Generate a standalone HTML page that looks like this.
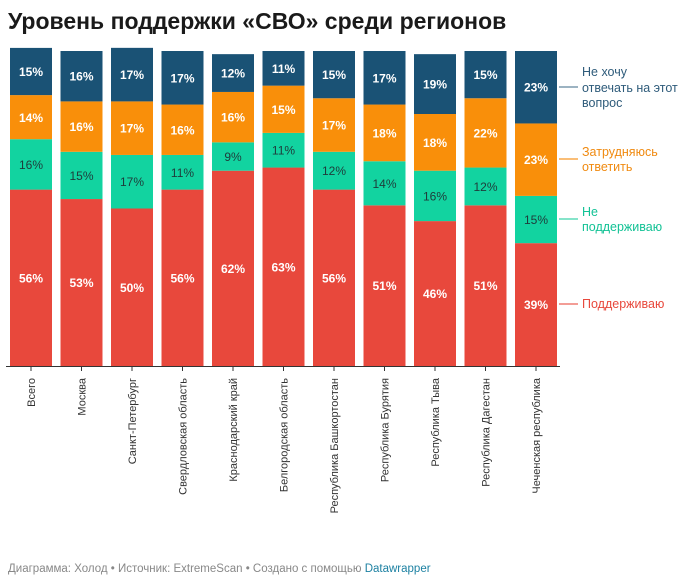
<!DOCTYPE html>
<html><head><meta charset="utf-8"><style>
body{margin:0;background:#fff;width:690px;height:580px;overflow:hidden;font-family:"Liberation Sans",sans-serif}
</style></head><body>
<svg width="690" height="580" xmlns="http://www.w3.org/2000/svg" font-family="Liberation Sans, sans-serif">
<text x="8" y="29" font-size="23" font-weight="bold" fill="#1a1a1a">Уровень поддержки «СВО» среди регионов</text>
<g>
<rect x="10" y="189.6" width="42" height="176.4" fill="#e8483c"/><rect x="10" y="139.2" width="42" height="50.4" fill="#12d3a0"/><rect x="10" y="95.1" width="42" height="44.1" fill="#f98f0a"/><rect x="10" y="47.9" width="42" height="47.2" fill="#1a5275"/>
<rect x="60.5" y="199.05" width="42" height="166.95" fill="#e8483c"/><rect x="60.5" y="151.8" width="42" height="47.25" fill="#12d3a0"/><rect x="60.5" y="101.4" width="42" height="50.4" fill="#f98f0a"/><rect x="60.5" y="51" width="42" height="50.4" fill="#1a5275"/>
<rect x="111" y="208.5" width="42" height="157.5" fill="#e8483c"/><rect x="111" y="154.95" width="42" height="53.55" fill="#12d3a0"/><rect x="111" y="101.4" width="42" height="53.55" fill="#f98f0a"/><rect x="111" y="47.85" width="42" height="53.55" fill="#1a5275"/>
<rect x="161.5" y="189.6" width="42" height="176.4" fill="#e8483c"/><rect x="161.5" y="154.95" width="42" height="34.65" fill="#12d3a0"/><rect x="161.5" y="104.55" width="42" height="50.4" fill="#f98f0a"/><rect x="161.5" y="51" width="42" height="53.55" fill="#1a5275"/>
<rect x="212" y="170.7" width="42" height="195.3" fill="#e8483c"/><rect x="212" y="142.35" width="42" height="28.35" fill="#12d3a0"/><rect x="212" y="91.95" width="42" height="50.4" fill="#f98f0a"/><rect x="212" y="54.15" width="42" height="37.8" fill="#1a5275"/>
<rect x="262.5" y="167.55" width="42" height="198.45" fill="#e8483c"/><rect x="262.5" y="132.9" width="42" height="34.65" fill="#12d3a0"/><rect x="262.5" y="85.65" width="42" height="47.25" fill="#f98f0a"/><rect x="262.5" y="51" width="42" height="34.65" fill="#1a5275"/>
<rect x="313" y="189.6" width="42" height="176.4" fill="#e8483c"/><rect x="313" y="151.8" width="42" height="37.8" fill="#12d3a0"/><rect x="313" y="98.25" width="42" height="53.55" fill="#f98f0a"/><rect x="313" y="51" width="42" height="47.25" fill="#1a5275"/>
<rect x="363.5" y="205.35" width="42" height="160.65" fill="#e8483c"/><rect x="363.5" y="161.25" width="42" height="44.1" fill="#12d3a0"/><rect x="363.5" y="104.55" width="42" height="56.7" fill="#f98f0a"/><rect x="363.5" y="51" width="42" height="53.55" fill="#1a5275"/>
<rect x="414" y="221.1" width="42" height="144.9" fill="#e8483c"/><rect x="414" y="170.7" width="42" height="50.4" fill="#12d3a0"/><rect x="414" y="114" width="42" height="56.7" fill="#f98f0a"/><rect x="414" y="54.15" width="42" height="59.85" fill="#1a5275"/>
<rect x="464.5" y="205.35" width="42" height="160.65" fill="#e8483c"/><rect x="464.5" y="167.55" width="42" height="37.8" fill="#12d3a0"/><rect x="464.5" y="98.25" width="42" height="69.3" fill="#f98f0a"/><rect x="464.5" y="51" width="42" height="47.25" fill="#1a5275"/>
<rect x="515" y="243.15" width="42" height="122.85" fill="#e8483c"/><rect x="515" y="195.9" width="42" height="47.25" fill="#12d3a0"/><rect x="515" y="123.45" width="42" height="72.45" fill="#f98f0a"/><rect x="515" y="51" width="42" height="72.45" fill="#1a5275"/>
</g>
<g font-size="12" font-weight="bold" text-anchor="middle" fill="#fff">
<text x="31" y="282.3">56%</text><text x="31" y="122">14%</text><text x="31" y="76">15%</text>
<text x="81.5" y="287">53%</text><text x="81.5" y="131">16%</text><text x="81.5" y="80.7">16%</text>
<text x="132" y="291.8">50%</text><text x="132" y="132.7">17%</text><text x="132" y="79">17%</text>
<text x="182.5" y="282.3">56%</text><text x="182.5" y="134.3">16%</text><text x="182.5" y="82.3">17%</text>
<text x="233" y="272.9">62%</text><text x="233" y="121.7">16%</text><text x="233" y="77.5">12%</text>
<text x="283.5" y="271.3">63%</text><text x="283.5" y="113.8">15%</text><text x="283.5" y="72.8">11%</text>
<text x="334" y="282.3">56%</text><text x="334" y="129.5">17%</text><text x="334" y="79">15%</text>
<text x="384.5" y="290.2">51%</text><text x="384.5" y="137.4">18%</text><text x="384.5" y="82.3">17%</text>
<text x="435" y="298.1">46%</text><text x="435" y="146.8">18%</text><text x="435" y="88.6">19%</text>
<text x="485.5" y="290.2">51%</text><text x="485.5" y="137.4">22%</text><text x="485.5" y="79">15%</text>
<text x="536" y="309.1">39%</text><text x="536" y="164.2">23%</text><text x="536" y="91.7">23%</text>
</g>
<g font-size="12" text-anchor="middle" fill="#1f3b3a">
<text x="31" y="168.9">16%</text><text x="81.5" y="179.9">15%</text><text x="132" y="186.2">17%</text><text x="182.5" y="176.8">11%</text><text x="233" y="161">9%</text><text x="283.5" y="154.7">11%</text><text x="334" y="175.2">12%</text><text x="384.5" y="187.8">14%</text><text x="435" y="200.4">16%</text><text x="485.5" y="191">12%</text><text x="536" y="224">15%</text>
</g>
<line x1="6" y1="366.5" x2="560" y2="366.5" stroke="#333" stroke-width="1"/>
<g stroke="#333"><line x1="31" y1="367" x2="31" y2="371"/><line x1="81.5" y1="367" x2="81.5" y2="371"/><line x1="132" y1="367" x2="132" y2="371"/><line x1="182.5" y1="367" x2="182.5" y2="371"/><line x1="233" y1="367" x2="233" y2="371"/><line x1="283.5" y1="367" x2="283.5" y2="371"/><line x1="334" y1="367" x2="334" y2="371"/><line x1="384.5" y1="367" x2="384.5" y2="371"/><line x1="435" y1="367" x2="435" y2="371"/><line x1="485.5" y1="367" x2="485.5" y2="371"/><line x1="536" y1="367" x2="536" y2="371"/></g>
<g font-size="11" fill="#333" text-anchor="end">
<text transform="translate(35,378) rotate(-90)">Всего</text>
<text transform="translate(85.5,378) rotate(-90)">Москва</text>
<text transform="translate(136,378) rotate(-90)">Санкт-Петербург</text>
<text transform="translate(186.5,378) rotate(-90)">Свердловская область</text>
<text transform="translate(237,378) rotate(-90)">Краснодарский край</text>
<text transform="translate(287.5,378) rotate(-90)">Белгородская область</text>
<text transform="translate(338,378) rotate(-90)">Республика Башкортостан</text>
<text transform="translate(388.5,378) rotate(-90)">Республика Бурятия</text>
<text transform="translate(439,378) rotate(-90)">Республика Тыва</text>
<text transform="translate(489.5,378) rotate(-90)">Республика Дагестан</text>
<text transform="translate(540,378) rotate(-90)">Чеченская республика</text>
</g>
<g font-size="12.5">
<line x1="559" y1="87" x2="578" y2="87" stroke="#7b9aae" stroke-width="1.5"/>
<text x="582" y="76" fill="#2e5b7a">Не хочу</text><text x="582" y="92" fill="#2e5b7a">отвечать на этот</text><text x="582" y="107" fill="#2e5b7a">вопрос</text>
<line x1="559" y1="159" x2="578" y2="159" stroke="#f9a84a" stroke-width="1.5"/>
<text x="582" y="156" fill="#f08a10">Затрудняюсь</text><text x="582" y="171" fill="#f08a10">ответить</text>
<line x1="559" y1="219" x2="578" y2="219" stroke="#5fdcb8" stroke-width="1.5"/>
<text x="582" y="216" fill="#12c295">Не</text><text x="582" y="231" fill="#12c295">поддерживаю</text>
<line x1="559" y1="304" x2="578" y2="304" stroke="#ef7d74" stroke-width="1.5"/>
<text x="582" y="308" fill="#e8483c">Поддерживаю</text>
</g>
<text x="8" y="572" font-size="11.5" fill="#888">Диаграмма: Холод • Источник: ExtremeScan • Создано с помощью <tspan fill="#1d81a2">Datawrapper</tspan></text>
</svg>
</body></html>
